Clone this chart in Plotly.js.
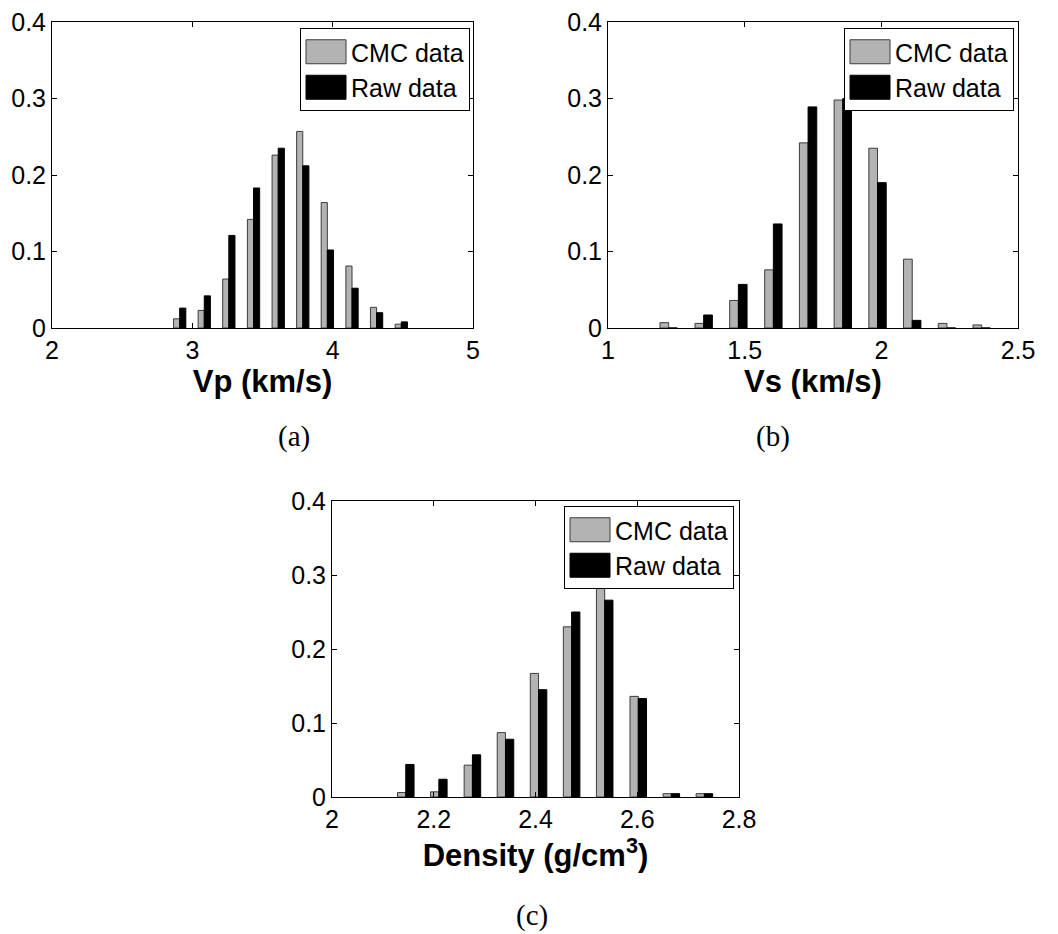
<!DOCTYPE html>
<html>
<head>
<meta charset="utf-8">
<script src="https://cdn.plot.ly/plotly-3.0.1.min.js"></script>
<style>
  html, body { margin: 0; padding: 0; background: #fff; }
  #chart { width: 1058px; height: 934px; }
</style>
</head>
<body>
<div id="chart"></div>
<script>
// ---- Data (relative frequencies) ----
const seriesNames = ["CMC data", "Raw data"];

// (a) Vp (km/s)
const vpBins = [2.91, 3.085, 3.26, 3.436, 3.612, 3.787, 3.962, 4.138, 4.313, 4.489];
const vpCMC  = [0.012, 0.023, 0.064, 0.142, 0.226, 0.257, 0.164, 0.081, 0.027, 0.005];
const vpRaw  = [0.026, 0.042, 0.121, 0.183, 0.235, 0.212, 0.102, 0.052, 0.020, 0.008];

// (b) Vs (km/s)
const vsBins = [1.222, 1.350, 1.477, 1.605, 1.732, 1.859, 1.986, 2.113, 2.240, 2.367];
const vsCMC  = [0.007, 0.006, 0.036, 0.076, 0.242, 0.298, 0.235, 0.090, 0.006, 0.004];
const vsRaw  = [0.000, 0.017, 0.057, 0.136, 0.289, 0.300, 0.190, 0.010, 0.000, 0.000];

// (c) Density (g/cm3)
const rhoBins = [2.145, 2.210, 2.276, 2.341, 2.406, 2.471, 2.536, 2.602, 2.667, 2.732];
const rhoCMC  = [0.006, 0.007, 0.043, 0.087, 0.167, 0.230, 0.312, 0.136, 0.0045, 0.0045];
const rhoRaw  = [0.044, 0.024, 0.057, 0.078, 0.145, 0.250, 0.266, 0.133, 0.0045, 0.0045];

const xTitles = ["Vp (km/s)", "Vs (km/s)", "Density (g/cm<sup>3</sup>)"];
const captions = ["(a)", "(b)", "(c)"];

// ---- Styles ----
const FONT = "Liberation Sans, Arial, Helvetica, sans-serif";
const SERIF = "Liberation Serif, Times New Roman, serif";
const grayStyle = { color: "#b3b3b3", line: { color: "#3c3c3c", width: 1 } };
const blackStyle = { color: "#000000", line: { color: "#000000", width: 1 } };

function pair(x, cmc, raw, ax, lg) {
  const xa = ax === 1 ? "x" : "x" + ax;
  const ya = ax === 1 ? "y" : "y" + ax;
  return [
    { type: "bar", x: x, y: cmc, name: seriesNames[0], marker: grayStyle,
      xaxis: xa, yaxis: ya, legend: lg, hoverinfo: "x+y+name" },
    { type: "bar", x: x, y: raw, name: seriesNames[1], marker: blackStyle,
      xaxis: xa, yaxis: ya, legend: lg, hoverinfo: "x+y+name" }
  ];
}

const data = [].concat(
  pair(vpBins, vpCMC, vpRaw, 1, "legend"),
  pair(vsBins, vsCMC, vsRaw, 2, "legend2"),
  pair(rhoBins, rhoCMC, rhoRaw, 3, "legend3")
);

function xAxis(domain, range, dtick, title, yName) {
  return {
    domain: domain, range: range, dtick: dtick, tick0: 0, anchor: yName,
    showline: true, linecolor: "#000", linewidth: 1, mirror: "ticks",
    ticks: "inside", ticklen: 5, tickcolor: "#000", showgrid: false, zeroline: false,
    tickfont: { family: FONT, size: 25, color: "#000" },
    automargin: false,
    title: { text: title, standoff: 4, font: { family: FONT, size: 31, color: "#000", weight: "bold" } }
  };
}
function yAxis(domain, xName) {
  return {
    domain: domain, range: [0, 0.4], dtick: 0.1, tick0: 0, anchor: xName,
    showline: true, linecolor: "#000", linewidth: 1, mirror: "ticks",
    ticks: "inside", ticklen: 5, tickcolor: "#000", showgrid: false, zeroline: false,
    tickfont: { family: FONT, size: 25, color: "#000" },
    automargin: false
  };
}
function legendAt(xr, yt) {
  return {
    x: xr, y: yt, xanchor: "right", yanchor: "top", xref: "paper", yref: "paper",
    bgcolor: "#fff", bordercolor: "#000", borderwidth: 1,
    font: { family: FONT, size: 25, color: "#000" },
    traceorder: "normal", itemwidth: 40, tracegroupgap: 0
  };
}

const W = 1058, H = 934;
const px = v => v / W, py = v => 1 - v / H;

const captionFont = { family: SERIF, size: 29, color: "#000" };
function caption(text, cx, cy) {
  return { text: text, x: px(cx), y: py(cy), xref: "paper", yref: "paper",
           xanchor: "center", yanchor: "middle", showarrow: false, font: captionFont };
}

const layout = {
  width: W, height: H,
  margin: { l: 0, r: 0, t: 0, b: 0 },
  paper_bgcolor: "#fff", plot_bgcolor: "#fff",
  barmode: "group", bargap: 0.5, bargroupgap: 0,
  showlegend: true,
  font: { family: FONT, color: "#000" },
  xaxis:  xAxis([px(52), px(473)], [2, 5], 1, xTitles[0], "y"),
  yaxis:  yAxis([py(328), py(22)], "x"),
  xaxis2: xAxis([px(608), px(1018)], [1, 2.5], 0.5, xTitles[1], "y2"),
  yaxis2: yAxis([py(328), py(22)], "x2"),
  xaxis3: xAxis([px(332), px(739)], [2, 2.8], 0.2, xTitles[2], "y3"),
  yaxis3: yAxis([py(797), py(501)], "x3"),
  legend:  legendAt(px(470), py(28)),
  legend2: legendAt(px(1014), py(28)),
  legend3: legendAt(px(734), py(506)),
  annotations: [
    caption(captions[0], 294, 436),
    caption(captions[1], 773, 436),
    caption(captions[2], 532, 915)
  ]
};

Plotly.newPlot("chart", data, layout, { staticPlot: true, displayModeBar: false }).then(function () {
  // enlarge legend patches to MATLAB-like rectangles
  document.querySelectorAll("#chart .legendpoints path").forEach(function (p) {
    p.setAttribute("d", "M20,12H-20V-12H20Z");
  });
});
</script>
</body>
</html>
